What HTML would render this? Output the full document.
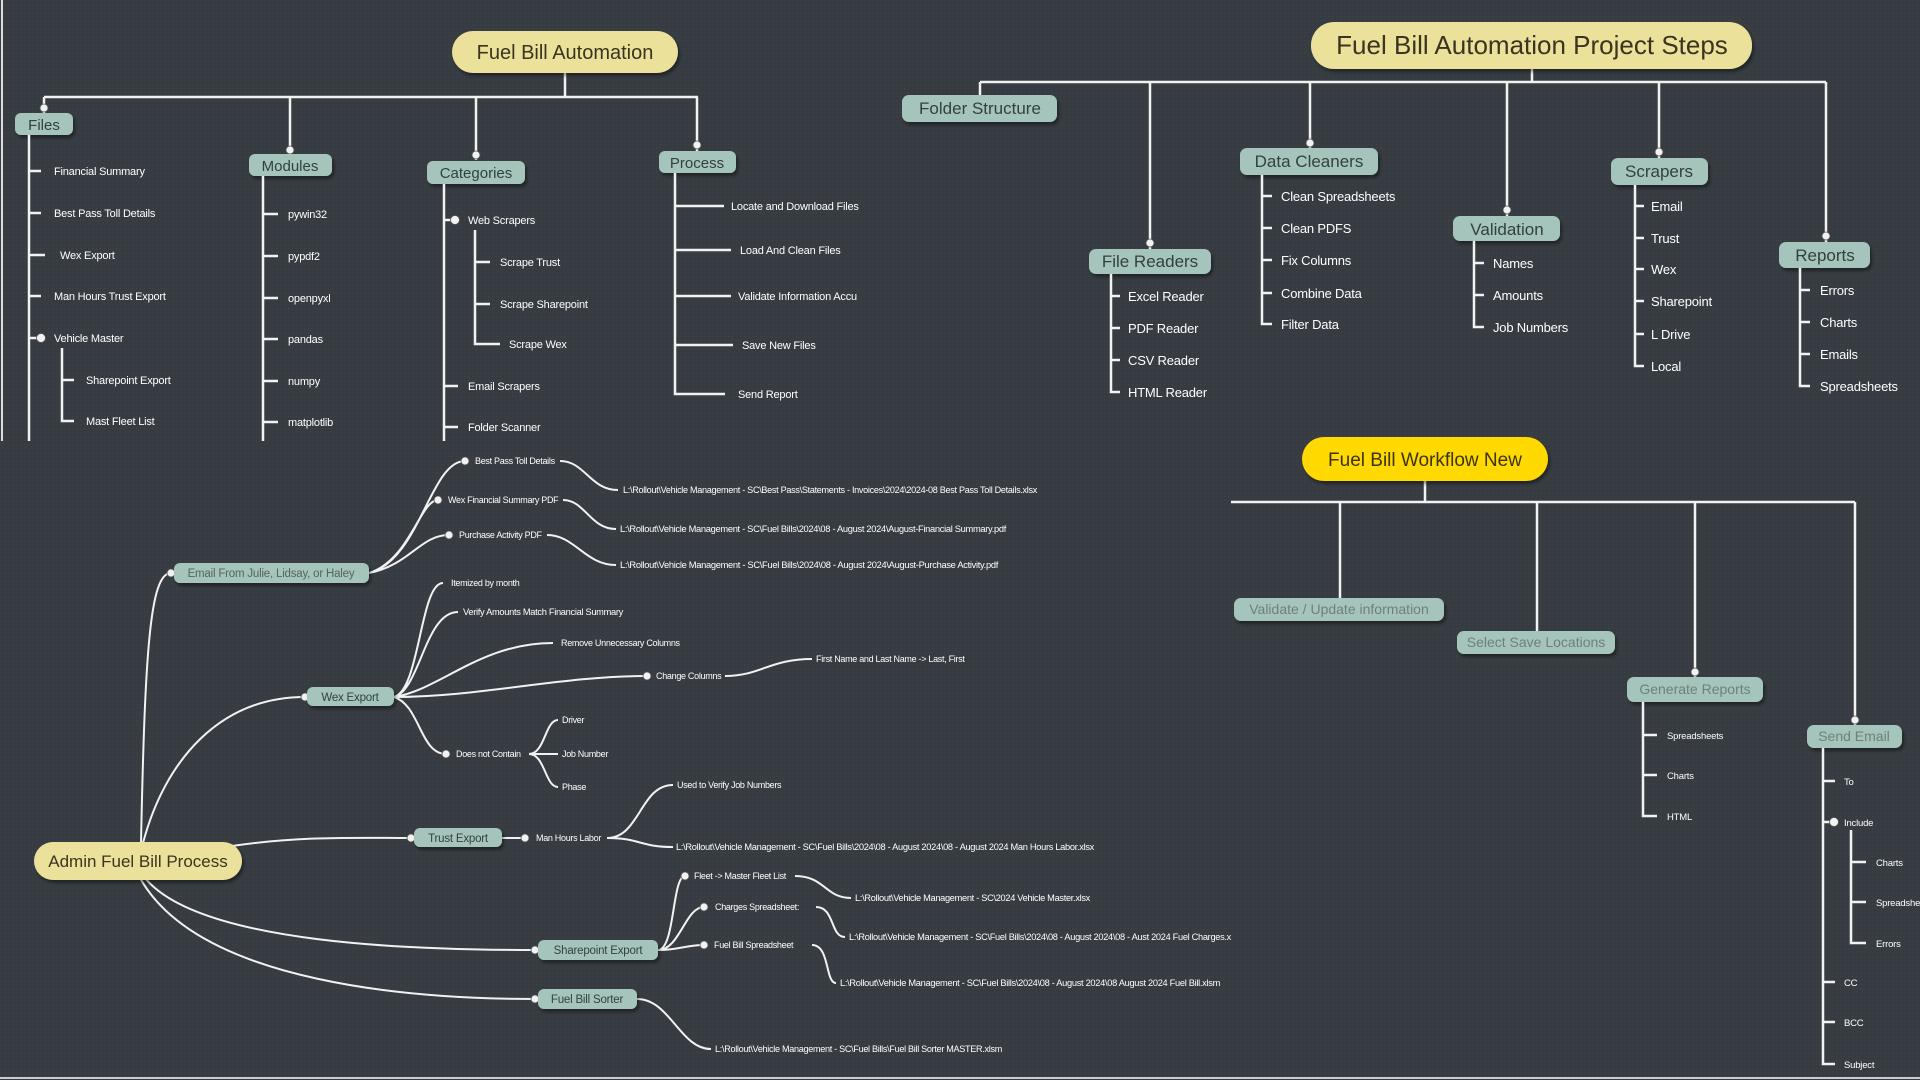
<!DOCTYPE html>
<html><head><meta charset="utf-8"><style>
html,body{margin:0;padding:0;background:#363c41;}
svg{display:block}
text{font-family:"Liberation Sans",sans-serif;}
.l{stroke:#f2f2f2;stroke-width:2.5;fill:none}
.c{stroke:#f2f2f2;stroke-width:2;fill:none}
.t{fill:#ffffff;font-size:11px;letter-spacing:-0.2px}
.s{fill:#ffffff;font-size:9.5px;letter-spacing:-0.2px}
.x{fill:#ffffff;font-size:9px;letter-spacing:-0.3px}
.m{fill:#ffffff;font-size:13px;letter-spacing:-0.2px}
.n{fill:#a4c4bc}
.nt{fill:#34403d;font-size:16px;text-anchor:middle}
.nb{fill:#34403d;font-size:11.5px;text-anchor:middle;letter-spacing:-0.2px}
.ft{fill:#6f807b;font-size:14px;text-anchor:middle}
.d{fill:#f2f2f2;stroke:#555;stroke-width:0.8}
</style></head><body>
<svg width="1920" height="1080" xmlns="http://www.w3.org/2000/svg">
<defs>
<pattern id="dots" width="4" height="4" patternUnits="userSpaceOnUse"><rect width="4" height="4" fill="#363c41"/><rect width="1" height="1" fill="#3e4449"/></pattern>
<filter id="sh" x="-10%" y="-20%" width="130%" height="160%"><feDropShadow dx="2" dy="3" stdDeviation="1.5" flood-color="#000" flood-opacity="0.4"/></filter>
</defs>
<rect width="1920" height="1080" fill="url(#dots)"/>
<line x1="2" y1="0" x2="2" y2="441" stroke="#ddd" stroke-width="2"/>
<line x1="0" y1="1078" x2="1920" y2="1078" stroke="#ccc" stroke-width="2"/>

<!-- ===== TOP LEFT ===== -->
<path class="l" d="M565 73V97M44 97H698M44 97V113M290 97V154M476 97V160M697 97V151"/>
<circle class="d" cx="44" cy="108" r="4"/><circle class="d" cx="290" cy="150" r="4"/><circle class="d" cx="476" cy="155" r="4"/><circle class="d" cx="697" cy="145" r="4"/>
<rect x="452" y="31" width="226" height="42" rx="21" fill="#ebe19a" filter="url(#sh)"/>
<text x="565" y="59" font-size="20" fill="#3a3420" text-anchor="middle">Fuel Bill Automation</text>
<g filter="url(#sh)"><rect class="n" x="15" y="113" width="58" height="22" rx="6"/><rect class="n" x="249" y="154" width="83" height="22" rx="6"/><rect class="n" x="427" y="161" width="98" height="23" rx="6"/><rect class="n" x="659" y="151" width="77" height="22" rx="6"/></g>
<text class="nt" x="44" y="130" style="font-size:15px">Files</text><text class="nt" x="290" y="171" style="font-size:15px">Modules</text><text class="nt" x="476" y="178" style="font-size:15px">Categories</text><text class="nt" x="697" y="168" style="font-size:15px">Process</text>
<path class="l" d="M29 135V441M29 171H41M29 213H41M29 255H45M29 296H41M29 338H41M62 348V421H74M62 380H74"/>
<circle class="d" cx="41" cy="338" r="4.5"/>
<text class="t" x="54" y="175">Financial Summary</text><text class="t" x="54" y="217">Best Pass Toll Details</text><text class="t" x="60" y="259">Wex Export</text><text class="t" x="54" y="300">Man Hours Trust Export</text><text class="t" x="54" y="342">Vehicle Master</text><text class="t" x="86" y="384">Sharepoint Export</text><text class="t" x="86" y="425">Mast Fleet List</text>
<path class="l" d="M263 176V441M263 214H278M263 256H278M263 298H278M263 339H278M263 381H278M263 422H278"/>
<text class="t" x="288" y="218">pywin32</text><text class="t" x="288" y="260">pypdf2</text><text class="t" x="288" y="302">openpyxl</text><text class="t" x="288" y="343">pandas</text><text class="t" x="288" y="385">numpy</text><text class="t" x="288" y="426">matplotlib</text>
<path class="l" d="M444 184V441M444 220H455M475 230V344H500M475 262H490M475 304H490M444 386H458M444 427H458"/>
<circle class="d" cx="455" cy="220" r="4.5"/>
<text class="t" x="468" y="224">Web Scrapers</text><text class="t" x="500" y="266">Scrape Trust</text><text class="t" x="500" y="308">Scrape Sharepoint</text><text class="t" x="509" y="348">Scrape Wex</text><text class="t" x="468" y="390">Email Scrapers</text><text class="t" x="468" y="431">Folder Scanner</text>
<path class="l" d="M675 173V394H725M675 206H724M675 250H731M675 296H731M675 345H733"/>
<text class="t" x="731" y="210">Locate and Download Files</text><text class="t" x="740" y="254">Load And Clean Files</text><text class="t" x="738" y="300">Validate Information Accu</text><text class="t" x="742" y="349">Save New Files</text><text class="t" x="738" y="398">Send Report</text>

<!-- ===== TOP RIGHT ===== -->
<path class="l" d="M1532 69V82M980 82H1826M980 82V95M1150 82V249M1310 82V148M1507 82V216M1659 82V158M1826 82V242"/>
<circle class="d" cx="1150" cy="243" r="4"/><circle class="d" cx="1310" cy="143" r="4"/><circle class="d" cx="1507" cy="210" r="4"/><circle class="d" cx="1659" cy="152" r="4"/><circle class="d" cx="1826" cy="236" r="4"/>
<rect x="1311" y="22" width="441" height="47" rx="23" fill="#ebe19a" filter="url(#sh)"/>
<text x="1532" y="54" font-size="26" fill="#3a3420" text-anchor="middle">Fuel Bill Automation Project Steps</text>
<g filter="url(#sh)"><rect class="n" x="902" y="95" width="155" height="27" rx="7"/><rect class="n" x="1089" y="249" width="122" height="25" rx="7"/><rect class="n" x="1240" y="148" width="138" height="27" rx="7"/><rect class="n" x="1453" y="216" width="107" height="25" rx="7"/><rect class="n" x="1611" y="158" width="97" height="27" rx="7"/><rect class="n" x="1779" y="242" width="91" height="26" rx="7"/></g>
<text class="nt" x="980" y="114" style="font-size:17px">Folder Structure</text><text class="nt" x="1150" y="267" style="font-size:17px">File Readers</text><text class="nt" x="1309" y="167" style="font-size:17px">Data Cleaners</text><text class="nt" x="1507" y="235" style="font-size:17px">Validation</text><text class="nt" x="1659" y="177" style="font-size:17px">Scrapers</text><text class="nt" x="1825" y="261" style="font-size:17px">Reports</text>
<path class="l" d="M1111 274V392H1120M1111 296H1120M1111 328H1120M1111 360H1120"/>
<text class="m" x="1128" y="301">Excel Reader</text><text class="m" x="1128" y="333">PDF Reader</text><text class="m" x="1128" y="365">CSV Reader</text><text class="m" x="1128" y="397">HTML Reader</text>
<path class="l" d="M1262 175V324H1272M1262 196H1272M1262 228H1272M1262 260H1272M1262 293H1272"/>
<text class="m" x="1281" y="201">Clean Spreadsheets</text><text class="m" x="1281" y="233">Clean PDFS</text><text class="m" x="1281" y="265">Fix Columns</text><text class="m" x="1281" y="298">Combine Data</text><text class="m" x="1281" y="329">Filter Data</text>
<path class="l" d="M1474 241V327H1484M1474 263H1484M1474 295H1484"/>
<text class="m" x="1493" y="268">Names</text><text class="m" x="1493" y="300">Amounts</text><text class="m" x="1493" y="332">Job Numbers</text>
<path class="l" d="M1635 185V366H1644M1635 206H1644M1635 238H1644M1635 269H1644M1635 301H1644M1635 334H1644"/>
<text class="m" x="1651" y="211">Email</text><text class="m" x="1651" y="243">Trust</text><text class="m" x="1651" y="274">Wex</text><text class="m" x="1651" y="306">Sharepoint</text><text class="m" x="1651" y="339">L Drive</text><text class="m" x="1651" y="371">Local</text>
<path class="l" d="M1800 268V386H1810M1800 290H1810M1800 322H1810M1800 354H1810"/>
<text class="m" x="1820" y="295">Errors</text><text class="m" x="1820" y="327">Charts</text><text class="m" x="1820" y="359">Emails</text><text class="m" x="1820" y="391">Spreadsheets</text>

<!-- ===== BOTTOM RIGHT ===== -->
<path class="l" d="M1425 481V502M1231 502H1855M1340 502V598M1537 502V631M1695 502V677M1855 502V725"/>
<circle class="d" cx="1695" cy="672" r="4"/><circle class="d" cx="1855" cy="720" r="4"/>
<rect x="1302" y="437" width="246" height="44" rx="22" fill="#ffd900" filter="url(#sh)"/>
<text x="1425" y="466" font-size="19" fill="#3a3410" text-anchor="middle">Fuel Bill Workflow New</text>
<g filter="url(#sh)"><rect class="n" x="1234" y="598" width="210" height="23" rx="7"/><rect class="n" x="1457" y="631" width="158" height="23" rx="7"/><rect class="n" x="1627" y="677" width="136" height="25" rx="7"/><rect class="n" x="1807" y="725" width="95" height="23" rx="7"/></g>
<text class="ft" x="1339" y="614">Validate / Update information</text><text class="ft" x="1536" y="647">Select Save Locations</text><text class="ft" x="1695" y="694">Generate Reports</text><text class="ft" x="1854" y="741">Send Email</text>
<path class="l" d="M1643 702V816H1657M1643 735H1657M1643 775H1657"/>
<text class="s" x="1667" y="739">Spreadsheets</text><text class="s" x="1667" y="779">Charts</text><text class="s" x="1667" y="820">HTML</text>
<path class="l" d="M1823 748V1064H1835M1823 781H1835M1823 822H1834M1851 830V943H1866M1851 862H1866M1851 902H1866M1823 982H1835M1823 1022H1835"/>
<circle class="d" cx="1834" cy="822" r="4.5"/>
<text class="s" x="1844" y="785">To</text><text class="s" x="1844" y="826">Include</text><text class="s" x="1876" y="866">Charts</text><text class="s" x="1876" y="906">Spreadsheets</text><text class="s" x="1876" y="947">Errors</text><text class="s" x="1844" y="986">CC</text><text class="s" x="1844" y="1026">BCC</text><text class="s" x="1844" y="1068">Subject</text>

<!-- ===== BOTTOM LEFT ===== -->
<path class="c" d="M141 843C145 650 150 573 171 573"/>
<path class="c" d="M143 843C165 760 220 697 305 697"/>
<path class="c" d="M232 846C300 836 350 838 411 838"/>
<path class="c" d="M145 878C200 945 420 950 535 950"/>
<path class="c" d="M140 878C200 985 420 999 535 999"/>
<path class="c" d="M369 573C420 560 430 461 465 461M369 573C410 560 420 500 438 500M369 573C410 565 420 535 449 535"/>
<path class="c" d="M560 461C585 461 590 490 618 490M563 500C585 500 590 529 616 529M547 535C575 535 585 565 616 565"/>
<path class="c" d="M394 697C420 690 420 583 443 583M394 697C420 690 425 612 458 612M394 697C440 690 480 643 553 643M394 697C480 697 560 676 647 676M394 697C420 705 420 754 446 754"/>
<path class="c" d="M725 676C760 676 770 659 812 659"/>
<path class="c" d="M529 754C545 754 545 720 558 720M529 754H558M529 754C545 754 545 787 558 787"/>
<path class="c" d="M502 838H525M607 838C640 838 640 785 673 785M607 838C640 838 640 847 673 847"/>
<path class="c" d="M658 950C675 950 672 876 685 876M658 950C680 950 685 907 704 907M658 950C680 950 685 945 704 945"/>
<path class="c" d="M795 876C825 876 825 898 851 898M816 907C835 907 830 937 845 937M812 945C830 945 825 983 836 983"/>
<path class="c" d="M637 999C670 999 680 1049 711 1049"/>
<g>
<circle class="d" cx="171" cy="573" r="4"/><circle class="d" cx="305" cy="697" r="4"/><circle class="d" cx="411" cy="838" r="4"/><circle class="d" cx="535" cy="950" r="4"/><circle class="d" cx="535" cy="999" r="4"/>
<circle class="d" cx="465" cy="461" r="4"/><circle class="d" cx="438" cy="500" r="4"/><circle class="d" cx="449" cy="535" r="4"/><circle class="d" cx="647" cy="676" r="4"/><circle class="d" cx="446" cy="754" r="4"/><circle class="d" cx="525" cy="838" r="4"/>
<circle class="d" cx="685" cy="876" r="4"/><circle class="d" cx="704" cy="907" r="4"/><circle class="d" cx="704" cy="945" r="4"/>
</g>
<rect x="34" y="842" width="208" height="38" rx="19" fill="#ebe19a" filter="url(#sh)"/>
<text x="138" y="867" font-size="17" fill="#3a3420" text-anchor="middle">Admin Fuel Bill Process</text>
<g filter="url(#sh)"><rect class="n" x="174" y="563" width="195" height="20" rx="6"/><rect class="n" x="307" y="687" width="87" height="19" rx="6"/><rect class="n" x="414" y="828" width="88" height="19" rx="6"/><rect class="n" x="538" y="940" width="120" height="20" rx="6"/><rect class="n" x="538" y="989" width="99" height="20" rx="6"/></g>
<text class="nb" x="271" y="577" style="fill:#55655f">Email From Julie, Lidsay, or Haley</text>
<text class="nb" x="350" y="701">Wex Export</text><text class="nb" x="458" y="842">Trust Export</text><text class="nb" x="598" y="954">Sharepoint Export</text><text class="nb" x="587" y="1003">Fuel Bill Sorter</text>
<text class="x" x="475" y="464">Best Pass Toll Details</text>
<text class="x" x="448" y="503">Wex Financial Summary PDF</text>
<text class="x" x="459" y="538">Purchase Activity PDF</text>
<text class="x" x="623" y="493" textLength="414" lengthAdjust="spacingAndGlyphs">L:\Rollout\Vehicle Management - SC\Best Pass\Statements - Invoices\2024\2024-08 Best Pass Toll Details.xlsx</text>
<text class="x" x="620" y="532" textLength="386" lengthAdjust="spacingAndGlyphs">L:\Rollout\Vehicle Management - SC\Fuel Bills\2024\08 - August 2024\August-Financial Summary.pdf</text>
<text class="x" x="620" y="568" textLength="378" lengthAdjust="spacingAndGlyphs">L:\Rollout\Vehicle Management - SC\Fuel Bills\2024\08 - August 2024\August-Purchase Activity.pdf</text>
<text class="x" x="451" y="586">Itemized by month</text>
<text class="x" x="463" y="615" textLength="160" lengthAdjust="spacingAndGlyphs">Verify Amounts Match Financial Summary</text>
<text class="x" x="561" y="646">Remove Unnecessary Columns</text>
<text class="x" x="656" y="679">Change Columns</text>
<text class="x" x="816" y="662">First Name and Last Name -&gt; Last, First</text>
<text class="x" x="456" y="757">Does not Contain</text>
<text class="x" x="562" y="723">Driver</text><text class="x" x="562" y="757">Job Number</text><text class="x" x="562" y="790">Phase</text>
<text class="x" x="536" y="841">Man Hours Labor</text>
<text class="x" x="677" y="788">Used to Verify Job Numbers</text>
<text class="x" x="676" y="850" textLength="418" lengthAdjust="spacingAndGlyphs">L:\Rollout\Vehicle Management - SC\Fuel Bills\2024\08 - August 2024\08 - August 2024 Man Hours Labor.xlsx</text>
<text class="x" x="694" y="879">Fleet -&gt; Master Fleet List</text>
<text class="x" x="715" y="910">Charges Spreadsheet:</text>
<text class="x" x="714" y="948">Fuel Bill Spreadsheet</text>
<text class="x" x="855" y="901" textLength="235" lengthAdjust="spacingAndGlyphs">L:\Rollout\Vehicle Management - SC\2024 Vehicle Master.xlsx</text>
<text class="x" x="849" y="940" textLength="382" lengthAdjust="spacingAndGlyphs">L:\Rollout\Vehicle Management - SC\Fuel Bills\2024\08 - August 2024\08 - Aust 2024 Fuel Charges.x</text>
<text class="x" x="840" y="986" textLength="380" lengthAdjust="spacingAndGlyphs">L:\Rollout\Vehicle Management - SC\Fuel Bills\2024\08 - August 2024\08 August 2024 Fuel Bill.xlsm</text>
<text class="x" x="715" y="1052" textLength="287" lengthAdjust="spacingAndGlyphs">L:\Rollout\Vehicle Management - SC\Fuel Bills\Fuel Bill Sorter MASTER.xlsm</text>
</svg>
</body></html>
